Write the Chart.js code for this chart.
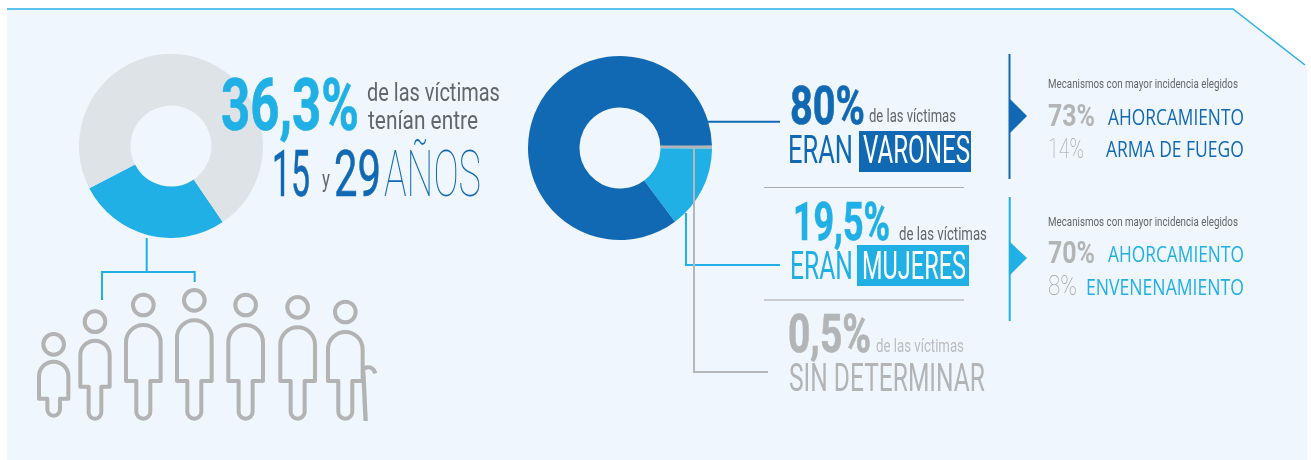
<!DOCTYPE html>
<html lang="es">
<head>
<meta charset="utf-8">
<title>Víctimas</title>
<script src="https://cdn.jsdelivr.net/npm/chart.js@4"></script>
<style>
    html, body { margin: 0; padding: 0; background: #fff; }
    #page { position: relative; width: 1311px; height: 460px; overflow: hidden; }
    #page svg, #page canvas { position: absolute; }
    #page svg { left: 0; top: 0; }
    #age-canvas { left: 79px; top: 54px; }
    #sex-canvas { left: 528px; top: 56px; }
    text { font-family: "Roboto", sans-serif; }
    .num { font-weight: 700; }
    .big { stroke-width: 0.7px; }
    .soft { fill: #636669; }
    .thin { font-weight: 100; }
    .mech { font-family: "Open Sans", sans-serif; }
</style>
</head>
<body>
<div id="page">
    <svg width="1311" height="460">
        <polygon points="7,9 1233,9 1307,66 1307,460 7,460" fill="#EFF6FD"/>
        <polyline points="7,9 1233,9 1305,65" fill="none" stroke="#2AB2E7" stroke-width="1.5"/>
    </svg>
    <canvas id="age-canvas" width="184" height="184"></canvas>
    <canvas id="sex-canvas" width="184" height="184"></canvas>
    <svg id="overlay" width="1311" height="460">
        <!-- conectores -->
        <g fill="none" stroke-width="2">
            <path d="M146.7 238V272M102 300V272H194.7V282" stroke="#20B0E6"/>
            <path d="M708 121.7H780" stroke="#1169B3"/>
            <path d="M686 213V265H780" stroke="#20B0E6"/>
            <path d="M660 146.5H712M694 146.5V372H768" stroke="#B5B6B7"/>
        </g>
        <path d="M764 187.5H964" stroke="#A9ADB0"/>
        <path d="M764 300H964" stroke="#BDBFC1" stroke-width="1.3"/>

        <!-- bloque izquierdo -->
        <text class="num big" x="221" y="130" font-size="72" fill="#20B0E6" stroke="#20B0E6" data-w="138">36,3%</text>
        <text class="soft" x="367" y="101" font-size="26" data-w="133">de las víctimas</text>
        <text class="soft" x="368" y="129" font-size="26" data-w="110">tenían entre</text>
        <text x="272" y="196" font-size="64" fill="#1169B3" stroke="#1169B3" stroke-width="0.6" data-w="38">15</text>
        <text class="soft" x="322" y="187" font-size="24" data-w="8">y</text>
        <text x="334" y="196" font-size="64" fill="#1169B3" stroke="#1169B3" stroke-width="0.6" data-w="47">29</text>
        <text class="thin" x="384" y="196" font-size="64" fill="#1169B3" data-w="97">AÑOS</text>

        <!-- bloque central -->
        <text class="num big" x="790" y="124" font-size="54" fill="#1169B3" stroke="#1169B3" data-w="75">80%</text>
        <text class="soft" x="869" y="122" font-size="18" data-w="87">de las víctimas</text>
        <text x="788" y="163" font-size="38" fill="#1169B3" data-w="65">ERAN</text>
        <rect x="859" y="131" width="112" height="41" fill="#1169B3"/>
        <text x="863" y="163" font-size="38" fill="#fff" data-w="107">VARONES</text>

        <text class="num big" x="793" y="240" font-size="54" fill="#20B0E6" stroke="#20B0E6" data-w="97">19,5%</text>
        <text class="soft" x="899" y="240" font-size="18" data-w="88">de las víctimas</text>
        <text x="790" y="279" font-size="38" fill="#20B0E6" data-w="63">ERAN</text>
        <rect x="857" y="245" width="112" height="41" fill="#20B0E6"/>
        <text x="862" y="279" font-size="38" fill="#fff" data-w="104">MUJERES</text>

        <text class="num big" x="788" y="352" font-size="54" fill="#B3B4B5" stroke="#B3B4B5" data-w="83">0,5%</text>
        <text x="876" y="352" font-size="18" fill="#BABCBE" data-w="88">de las víctimas</text>
        <text x="789" y="391" font-size="38" fill="#B3B4B5" data-w="196">SIN DETERMINAR</text>

        <!-- mecanismos -->
        <path d="M1009.5 54V179" stroke="#1169B3" stroke-width="2"/>
        <polygon points="1010,99 1027,116 1010,133" fill="#1169B3"/>
        <text class="soft" x="1048" y="88" font-size="12" data-w="190">Mecanismos con mayor incidencia elegidos</text>
        <text class="num" x="1048" y="126" font-size="32" fill="#B3B4B5" data-w="47">73%</text>
        <text class="mech" x="1108" y="125" font-size="21" fill="#1169B3" data-w="136">AHORCAMIENTO</text>
        <text class="thin" x="1048" y="158" font-size="28" fill="#9FA1A3" data-w="36">14%</text>
        <text class="mech" x="1106" y="157" font-size="21" fill="#1169B3" data-w="138">ARMA DE FUEGO</text>

        <path d="M1009.7 197V321" stroke="#20B0E6" stroke-width="2"/>
        <polygon points="1010,242 1027,258 1010,275" fill="#20B0E6"/>
        <text class="soft" x="1048" y="226" font-size="12" data-w="190">Mecanismos con mayor incidencia elegidos</text>
        <text class="num" x="1048" y="263" font-size="32" fill="#B3B4B5" data-w="47">70%</text>
        <text class="mech" x="1108" y="262" font-size="21" fill="#20B0E6" data-w="136">AHORCAMIENTO</text>
        <text class="thin" x="1048" y="295" font-size="28" fill="#9FA1A3" data-w="29">8%</text>
        <text class="mech" x="1086" y="295" font-size="21" fill="#20B0E6" data-w="158">ENVENENAMIENTO</text>

        <g id="people" fill="none" stroke="#B3B3B3" stroke-width="4" stroke-linejoin="round"></g>
    </svg>
</div>

<script>
// porciones (no de los rotulos)
const ageLabels = ['15 a 29 años', 'Resto'];
const ageShare = [26.9, 73.1];
const ageColors = ['#20B0E6', '#DEE3E7'];

const sexLabels = ['Sin determinar', 'Mujeres', 'Varones'];
const sexShare = [0.5, 14.7, 84.8];
const sexColors = ['#B0B3B5', '#20B0E6', '#1169B3'];

function makeDoughnut(id, labels, values, colors, rotation) {
    return new Chart(document.getElementById(id), {
        type: 'doughnut',
        data: {
            labels: labels,
            datasets: [{
                data: values,
                backgroundColor: colors,
                borderWidth: 0
            }]
        },
        options: {
            responsive: false,
            animation: false,
            rotation: rotation,
            cutout: '44%',
            plugins: {
                legend: { display: false },
                tooltip: { enabled: false }
            }
        }
    });
}

let ageChart = makeDoughnut('age-canvas', ageLabels, ageShare, ageColors, 145.8);
let sexChart = makeDoughnut('sex-canvas', sexLabels, sexShare, sexColors, 88.6);

// ajusta cada texto al ancho del original comprimiendolo en horizontal
function fitTexts() {
    let texts = document.querySelectorAll('#overlay text');
    for (let i = 0; i < texts.length; i++) {
        let t = texts[i];
        let s = parseFloat(t.getAttribute('data-w')) / t.getComputedTextLength();
        let x = t.getAttribute('x');
        let y = t.getAttribute('y');
        t.setAttribute('x', 0);
        t.setAttribute('y', 0);
        t.setAttribute('transform', 'translate(' + x + ' ' + y + ') scale(' + s.toFixed(4) + ' 1)');
    }
}
fitTexts();

// figuras de personas, medidas en la ampliacion 3x de la zona (20,240)
function personPath(cx, top, hw, bottom, lw, foot) {
    let s = 'M' + (cx - hw) + ' ' + bottom + 'V' + (top + hw);
    s += 'A' + hw + ' ' + hw + ' 0 0 1 ' + (cx + hw) + ' ' + (top + hw);
    s += 'V' + bottom + 'H' + (cx + lw) + 'V' + (foot - lw);
    s += 'A' + lw + ' ' + lw + ' 0 0 1 ' + (cx - lw) + ' ' + (foot - lw);
    s += 'V' + bottom + 'Z';
    return s;
}

const people = [
    {cx: 101, head: 313, top: 365, hw: 44, bottom: 476, lw: 19, foot: 527},
    {cx: 225, head: 245, top: 302, hw: 44, bottom: 440, lw: 19, foot: 536},
    {cx: 370, head: 195, top: 255, hw: 52, bottom: 423, lw: 21, foot: 536},
    {cx: 523, head: 181, top: 241, hw: 52, bottom: 423, lw: 21, foot: 536},
    {cx: 677, head: 195, top: 255, hw: 52, bottom: 423, lw: 21, foot: 536},
    {cx: 833, head: 202, top: 262, hw: 52, bottom: 423, lw: 21, foot: 536},
    {cx: 976, head: 216, top: 276, hw: 52, bottom: 423, lw: 21, foot: 536}
];

let group = document.getElementById('people');
let markup = '<g transform="translate(20 240) scale(0.3333)" stroke-width="12">';
for (let i = 0; i < people.length; i++) {
    let p = people[i];
    markup += '<circle cx="' + p.cx + '" cy="' + p.head + '" r="31"/>';
    markup += '<path d="' + personPath(p.cx, p.top, p.hw, p.bottom, p.lw, p.foot) + '"/>';
}
// baston del ultimo
markup += '<path d="M1028 395C1032 378 1058 375 1066 400" />';
markup += '<path d="M1030 395L1037 543" stroke-width="13"/>';
markup += '</g>';
group.innerHTML = markup;
</script>
</body>
</html>
